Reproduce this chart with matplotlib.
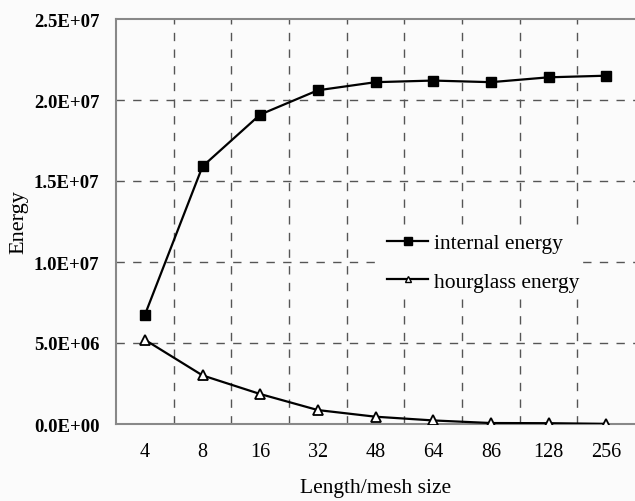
import matplotlib
matplotlib.use("Agg")
import matplotlib.pyplot as plt
from matplotlib.lines import Line2D

categories = ["4", "8", "16", "32", "48", "64", "86", "128", "256"]
internal_energy = [6.73e6, 1.59e7, 1.91e7, 2.06e7, 2.11e7, 2.12e7, 2.11e7, 2.14e7, 2.15e7]
hourglass_energy = [5.2e6, 3.0e6, 1.85e6, 0.86e6, 0.45e6, 0.22e6, 0.06e6, 0.05e6, 0.01e6]
y_ticks = [0, 5e6, 1e7, 1.5e7, 2e7, 2.5e7]
y_tick_labels = ["0.0E+00", "5.0E+06", "1.0E+07", "1.5E+07", "2.0E+07", "2.5E+07"]

plt.rcParams['font.family'] = ['Liberation Serif', 'DejaVu Serif']

fig = plt.figure(figsize=(6.35, 5.02), dpi=100)
fig.patch.set_facecolor('#fbfbfb')
W, H = 635, 502
left, right, top, bottom = 116, 635, 20, 425
ax = fig.add_axes([left / W, 1 - bottom / H, (right - left) / W, (bottom - top) / H])
ax.set_facecolor('#fbfbfb')

x = list(range(len(categories)))
ax.plot(x, internal_energy, color='black', lw=1.6, marker='s', ms=7,
        mfc='black', mec='black', zorder=3)
ax.plot(x, hourglass_energy, color='black', lw=1.6, marker='^', ms=7,
        mfc='white', mec='black', mew=1.3, zorder=3)

ax.set_xlim(-0.5, len(categories) - 0.5)
ax.set_ylim(0, 2.5e7)
ax.set_xticks(x)
ax.set_xticklabels(categories, fontsize=14.5)
ax.set_yticks(y_ticks)
ax.set_yticklabels(y_tick_labels, fontsize=13.5, fontweight='bold')
ax.tick_params(length=0, pad=12)
ax.tick_params(axis='x', pad=13)

grid_kw = dict(color='#555555', lw=1.0, ls=(0, (6, 6)), zorder=1)
for yv in y_ticks[1:-1]:
    ax.axhline(yv, **grid_kw)
for i in range(len(categories) - 1):
    ax.axvline(i + 0.5, **grid_kw)

for s in ['left', 'bottom', 'top']:
    ax.spines[s].set_color('#888888')
    ax.spines[s].set_linewidth(1.5)
ax.spines['right'].set_visible(False)

ax.set_xlabel("Length/mesh size", fontsize=15.5, labelpad=12)
ax.set_ylabel("Energy", fontsize=16, labelpad=4)

handles = [
    Line2D([], [], color='black', lw=1.6, marker='s', ms=6, mfc='black', mec='black'),
    Line2D([], [], color='black', lw=1.6, marker='^', ms=5, mfc='white', mec='black'),
]
leg = ax.legend(handles, ["internal energy", "hourglass energy"], loc='upper left',
                bbox_to_anchor=((383 - left) / (right - left), 1 - (230 - top) / (bottom - top)),
                frameon=True, fontsize=15.5, handlelength=1.9, handletextpad=0.25,
                labelspacing=0.85, borderpad=0.2, borderaxespad=0)
leg.get_frame().set_facecolor('#fbfbfb')
leg.get_frame().set_edgecolor('none')
leg.get_frame().set_alpha(1)

fig.savefig("out.png", dpi=100, facecolor=fig.get_facecolor())
